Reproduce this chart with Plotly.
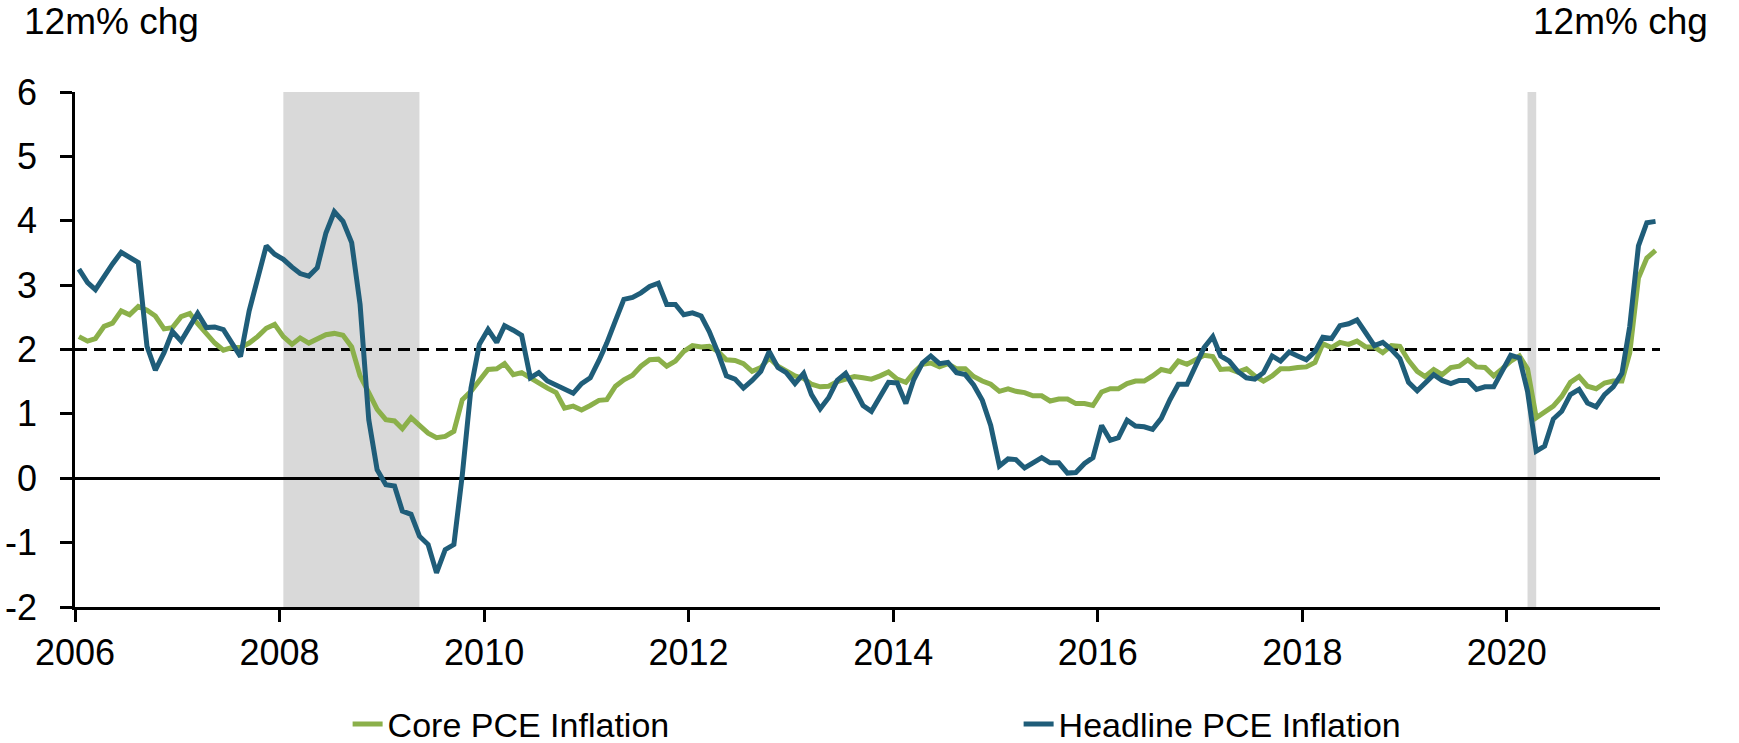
import pandas as pd
import plotly.graph_objects as go

# Monthly observations, Jan 2006 - Jun 2021 (12-month % change)
headline = [
    3.25, 3.04, 2.93, 3.14, 3.33, 3.51, 3.44, 3.35, 2.05, 1.68, 1.95, 2.28,   # 2006
    2.13, 2.36, 2.56, 2.34, 2.35, 2.31, 2.10, 1.89, 2.60, 3.11, 3.61, 3.48,   # 2007
    3.40, 3.28, 3.18, 3.14, 3.27, 3.81, 4.14, 3.99, 3.66, 2.70, 0.91, 0.13,   # 2008
    -0.10, -0.12, -0.51, -0.56, -0.90, -1.03, -1.47, -1.11, -1.03, 0.05, 1.40, 2.08,  # 2009
    2.31, 2.11, 2.37, 2.30, 2.22, 1.56, 1.64, 1.51, 1.44, 1.38, 1.32, 1.47,   # 2010
    1.56, 1.83, 2.10, 2.45, 2.78, 2.81, 2.88, 2.98, 3.03, 2.70, 2.70, 2.54,   # 2011
    2.57, 2.52, 2.28, 1.95, 1.59, 1.54, 1.40, 1.52, 1.66, 1.97, 1.72, 1.64,   # 2012
    1.47, 1.63, 1.30, 1.08, 1.25, 1.52, 1.63, 1.39, 1.13, 1.04, 1.27, 1.49,   # 2013
    1.48, 1.16, 1.53, 1.79, 1.90, 1.78, 1.80, 1.64, 1.61, 1.45, 1.21, 0.82,   # 2014
    0.19, 0.30, 0.29, 0.16, 0.24, 0.32, 0.24, 0.24, 0.08, 0.09, 0.23, 0.32,   # 2015
    0.82, 0.59, 0.63, 0.90, 0.81, 0.80, 0.76, 0.93, 1.22, 1.46, 1.46, 1.72,   # 2016
    2.03, 2.20, 1.90, 1.82, 1.66, 1.56, 1.54, 1.64, 1.90, 1.82, 1.96, 1.90,   # 2017
    1.84, 1.97, 2.19, 2.17, 2.37, 2.40, 2.46, 2.26, 2.06, 2.11, 2.00, 1.86,   # 2018
    1.49, 1.36, 1.49, 1.61, 1.52, 1.47, 1.52, 1.52, 1.38, 1.42, 1.42, 1.66,   # 2019
    1.91, 1.87, 1.35, 0.42, 0.50, 0.92, 1.04, 1.30, 1.38, 1.17, 1.11, 1.30,   # 2020
    1.42, 1.63, 2.36, 3.61, 3.97, 3.99,                                       # 2021
]

core = [
    2.20, 2.13, 2.17, 2.36, 2.41, 2.60, 2.54, 2.67, 2.61, 2.52, 2.32, 2.34,   # 2006
    2.51, 2.56, 2.40, 2.25, 2.10, 1.99, 2.03, 2.03, 2.10, 2.20, 2.33, 2.39,   # 2007
    2.20, 2.08, 2.18, 2.10, 2.17, 2.23, 2.25, 2.22, 2.04, 1.59, 1.33, 1.07,   # 2008
    0.91, 0.89, 0.77, 0.94, 0.82, 0.70, 0.63, 0.65, 0.73, 1.22, 1.35, 1.51,   # 2009
    1.69, 1.70, 1.78, 1.61, 1.64, 1.56, 1.47, 1.40, 1.33, 1.09, 1.12, 1.06,   # 2010
    1.13, 1.21, 1.22, 1.43, 1.53, 1.60, 1.74, 1.84, 1.85, 1.74, 1.82, 1.97,   # 2011
    2.06, 2.04, 2.05, 1.97, 1.84, 1.83, 1.78, 1.66, 1.72, 1.87, 1.74, 1.66,   # 2012
    1.59, 1.55, 1.46, 1.42, 1.43, 1.50, 1.53, 1.58, 1.56, 1.54, 1.59, 1.65,   # 2013
    1.54, 1.49, 1.64, 1.77, 1.79, 1.73, 1.78, 1.70, 1.70, 1.58, 1.51, 1.46,   # 2014
    1.35, 1.39, 1.35, 1.33, 1.28, 1.28, 1.20, 1.23, 1.23, 1.16, 1.16, 1.13,   # 2015
    1.34, 1.39, 1.39, 1.47, 1.51, 1.51, 1.59, 1.69, 1.66, 1.82, 1.77, 1.85,   # 2016
    1.91, 1.89, 1.69, 1.70, 1.65, 1.70, 1.59, 1.51, 1.59, 1.70, 1.70, 1.72,   # 2017
    1.73, 1.80, 2.09, 2.03, 2.11, 2.08, 2.13, 2.04, 2.04, 1.95, 2.06, 2.05,   # 2018
    1.83, 1.66, 1.58, 1.69, 1.61, 1.72, 1.74, 1.84, 1.73, 1.72, 1.59, 1.70,   # 2019
    1.82, 1.90, 1.70, 0.94, 1.02, 1.12, 1.27, 1.49, 1.58, 1.43, 1.39, 1.48,   # 2020
    1.51, 1.51, 1.95, 3.11, 3.42, 3.54,                                       # 2021
]

# mid-month dates for each observation
dates = list(pd.date_range("2006-01-01", "2021-06-01", freq="MS") + pd.Timedelta(days=14))

# recession shading (first and last shaded month)
rec_start = ["2008-01-15", "2020-03-15"]
rec_end = ["2009-05-15", "2020-04-15"]

target = 2
x_range = ["2006-01-01", "2021-07-01"]
y_range = [-2, 6]
y_ticks = [-2, -1, 0, 1, 2, 3, 4, 5, 6]
y_ticktext = ["-2", "-1", "0", "1", "2", "3", "4", "5", "6"]
y_label = "12m% chg"

GREEN = "#8BB04A"
BLUE = "#1F5D79"
FONT = "Liberation Sans, Arial, sans-serif"

fig = go.Figure()
fig.add_trace(go.Scatter(x=dates, y=core, mode="lines", name="Core PCE Inflation",
                         line=dict(color=GREEN, width=5)))
fig.add_trace(go.Scatter(x=dates, y=headline, mode="lines", name="Headline PCE Inflation",
                         line=dict(color=BLUE, width=5)))

for s, e in zip(rec_start, rec_end):
    fig.add_vrect(x0=s, x1=e, fillcolor="#D9D9D9", opacity=1, line_width=0, layer="below")

fig.add_hline(y=target, line=dict(color="black", width=2.8, dash="12px,7px"), layer="below")

axis_common = dict(showline=True, linecolor="black", linewidth=2.5, ticks="outside",
                   ticklen=12, tickwidth=2.5, tickcolor="black", showgrid=False,
                   automargin=False,
                   tickfont=dict(family=FONT, size=36, color="black"))

fig.update_layout(
    width=1739, height=743,
    margin=dict(l=75, r=79, t=92, b=136, autoexpand=False),
    paper_bgcolor="white", plot_bgcolor="white",
    font=dict(family=FONT, color="black"),
    xaxis=dict(type="date", range=x_range, tick0="2006-01-01", dtick="M24",
               tickformat="%Y", ticklabelstandoff=0, **axis_common),
    yaxis=dict(range=y_range, tickmode="array", tickvals=y_ticks, ticktext=y_ticktext,
               zeroline=True, zerolinecolor="black", zerolinewidth=2.5,
               ticklabelstandoff=16, **axis_common),
    yaxis2=dict(range=y_range, tickmode="array", tickvals=y_ticks, ticktext=y_ticktext,
                overlaying="y", side="right", zeroline=False,
                ticklabelstandoff=6, **axis_common),
    showlegend=True,
    legend=dict(orientation="h", x=0.172, y=-0.228, xanchor="left", yanchor="middle",
                font=dict(family=FONT, size=34, color="black"),
                entrywidth=626, entrywidthmode="pixels", bgcolor="rgba(0,0,0,0)"),
    annotations=[
        dict(text=y_label, xref="paper", yref="paper", x=-0.0335, y=1.136,
             xanchor="left", yanchor="middle", showarrow=False,
             font=dict(family=FONT, size=37, color="black")),
        dict(text=y_label, xref="paper", yref="paper", x=1.0313, y=1.136,
             xanchor="right", yanchor="middle", showarrow=False,
             font=dict(family=FONT, size=37, color="black")),
    ],
)

fig.write_html("out.html",
               config={"displayModeBar": False},
               post_script="document.body.style.margin='0';document.body.style.overflow='hidden';")
